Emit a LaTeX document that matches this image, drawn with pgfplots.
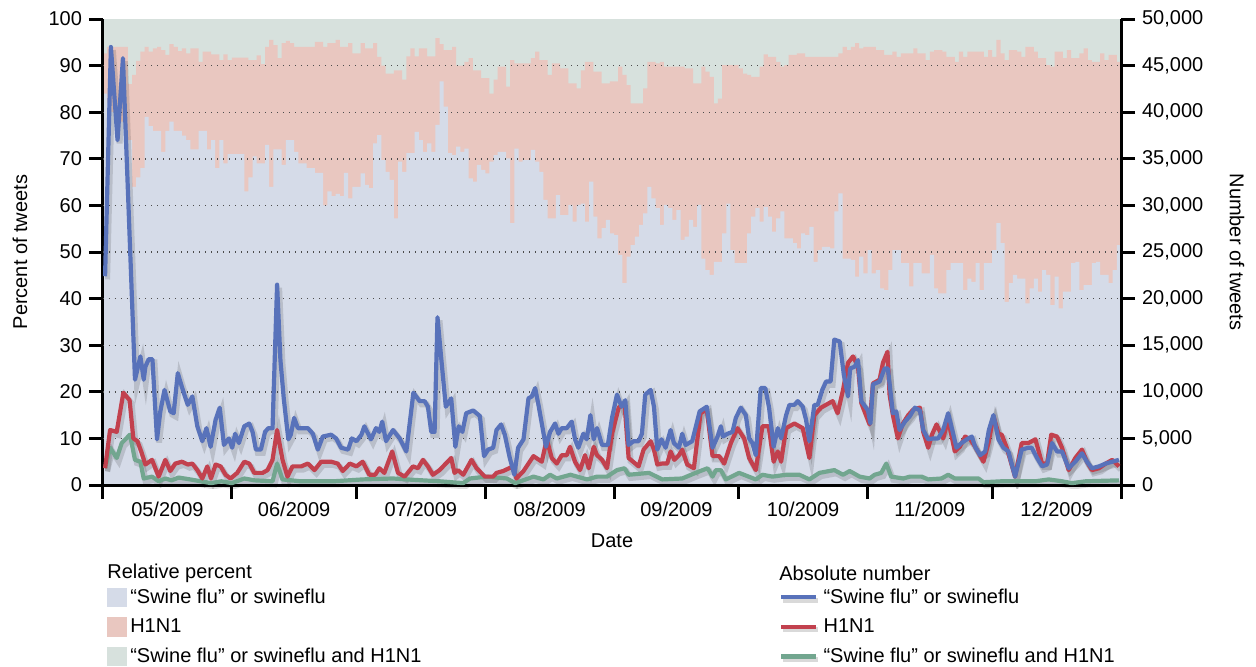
\documentclass[border=0pt]{standalone}
\usepackage{fontspec}
\setmainfont{Liberation Sans}
\usepackage{pgfplots}
\usepackage{pgfplotstable}
\pgfplotsset{compat=1.18}
\definecolor{SwBar}{HTML}{D5DBE8}
\definecolor{HnBar}{HTML}{E9C7C0}
\definecolor{BothBar}{HTML}{D7E1DD}
\definecolor{SwLine}{HTML}{5872BA}
\definecolor{HnLine}{HTML}{C2414E}
\definecolor{BothLine}{HTML}{72A68F}

% relative percent, step values (day from 1 May 2009, percent)
\pgfplotstableread{
d v
0 84
1 82
2 80
4 78
5 76
6 74
7 64
8 66
9 68
10 79
11 77
12 76
14 71.5
15 76
16 78
17 76
19 75
20 74
21 72
23 76
25 72
26 74
27 68
28 74
29 69
30 71
34 63
35 66
36 70.5
37 69
39 73
40 64
41 72
43 68.7
44 74
46 71.5
47 69
49 68
51 67
53 60
54 63
55 62
56 62.5
57 62
58 67
59 61.5
60 64
62 66.9
63 64.4
64 63.7
65 73.3
66 75.1
67 69.7
68 67.2
69 65.5
70 57.2
71 69.4
72 67.2
73 71.2
75 75.8
76 74
77 71.5
78 73.3
79 71.5
80 77.3
81 86.6
82 81.2
83 71.2
84 70.8
85 72.6
86 71.5
87 72.2
88 65.8
89 65.1
90 68.7
91 67.6
92 66.9
93 69.4
94 70.8
95 71.5
97 70.1
98 56.2
99 72.2
100 69.4
101 69.7
103 71.9
104 69.4
105 67.2
106 61.2
107 57.2
109 62.2
110 57.9
112 60.1
113 56.5
114 60.1
115 60.4
116 56.5
117 65.1
118 57.6
119 52.9
120 55.1
121 56.9
122 54
123 53.6
124 49.4
125 43.3
126 49
127 51.5
128 53.3
129 55.8
130 58.3
131 64
132 61.5
133 59.4
134 55.8
135 60.1
136 59.4
137 56.9
138 59
139 52.6
140 53.3
141 56.9
142 55.4
143 60.1
144 48.6
145 46.1
146 45.1
147 47.9
149 54
150 60.4
151 50.4
152 47.6
155 54
156 57.6
157 59.4
158 56.5
159 59.7
160 57.6
161 54.4
162 57.2
163 58.7
164 52.9
166 51.9
167 50.8
168 54
169 53.6
170 55.4
171 47.9
172 50.4
173 51.1
175 50.8
176 58.7
177 62.6
178 48.6
180 48.3
181 44.7
182 49
183 45.4
184 50.4
185 45.4
186 46.1
187 42.2
188 41.8
189 46.1
190 50.4
192 47.6
194 42.6
195 47.6
197 45.4
199 49.4
200 42.2
201 41.1
203 46.1
204 47.6
207 41.8
208 44.3
209 43.6
210 47.6
211 41.8
212 47.6
214 50.4
215 56.2
216 51.9
217 39.3
218 43.3
219 45.1
220 44.3
222 39
223 42.2
224 44.3
225 41.5
226 46.1
227 45.1
228 38.6
229 44.7
230 37.9
231 41.5
233 47.6
234 47.9
235 41.8
236 42.9
238 47.6
239 47.9
240 45.1
242 43.3
243 46.1
244 51.5
245 51.5
}\swbar

% swine flu + H1N1 share (top of the H1N1 band)
\pgfplotstableread{
d v
0 92.6
1 94
6 86
7 88
8 91
9 93
10 94
11 93
12 93.7
13 94
14 93.3
15 92.3
16 94.6
17 94
18 93.1
19 93.7
20 92.6
21 93.7
23 90.8
24 93
26 92.4
28 91.2
29 92.4
30 91.2
31 91.7
35 91.2
37 92.2
38 90.3
39 94
40 95.5
41 94.4
42 91.6
43 94.8
44 95.3
45 94.8
46 94
51 95.1
53 94
54 94.8
56 95.5
57 94
59 94.8
60 92.6
62 94.8
63 93.7
65 94.8
66 91.9
67 90
68 88.3
70 89
72 87
73 92
74 93.7
75 92
76 93.7
78 92
80 95.9
81 94.6
82 93.3
84 94
85 90
87 90.8
88 91.6
89 89
91 87.3
93 84
94 87
95 89.8
97 85.5
98 91.2
99 90.5
103 91.6
104 93
105 91.2
107 88
108 90.5
110 89.4
112 86.2
114 85.1
115 89
116 90.8
118 88.7
120 86.2
122 86.6
124 89.8
125 88
126 85.8
127 81.9
130 85.1
131 90.8
133 90.5
134 90.8
135 89.8
140 89.4
142 86.2
144 89.8
145 88.7
146 87.6
147 81.9
148 82.9
149 90.1
153 89.4
154 88.3
155 88
156 87.6
158 89.8
159 92.4
160 91.9
162 90.8
163 89.8
164 90.1
165 92.3
167 92.6
169 91.9
177 92.6
178 94
179 93.3
180 94
181 94.8
182 93.7
183 94
186 93.3
188 92.3
190 93
191 91.9
192 92.6
195 93.7
196 92.6
198 91.2
199 93
200 93.3
202 93
203 91.9
205 90.8
206 93
207 91.9
208 93
212 91.9
213 93.3
214 91.9
215 95.5
216 92.6
217 91.2
218 93.3
220 93
221 91.9
222 94
224 93
225 91.6
227 90.1
228 89.8
229 93
231 91.6
232 93.3
233 91.6
235 92.6
236 93.7
237 91.2
238 90.8
240 92.6
241 91.2
242 92.3
244 90.8
245 90.8
}\hntop

% absolute numbers, thousands of tweets
\pgfplotstableread{
d v
0 22.4
1.4 47
3 37
4.3 45.8
7.2 11.3
8.5 13.8
9.3 11.3
9.7 12.7
10.5 13.5
11.4 13.5
12.5 4.9
13.3 7.9
14.3 10.2
15.7 7.9
16.5 7.7
17.5 12
18.5 10.5
19.9 8.6
21 9.5
22.2 6.3
23.4 4.7
24.4 6.1
25.4 4.1
26.6 7
27.6 8.3
28.6 4.3
29.8 5
30.6 4
31.3 5.5
32.2 4.5
33.5 6.3
34.7 6.6
35.5 5.7
36.3 3.8
37.5 3.8
38.5 5.7
39.3 6.1
40.3 6.1
41.4 21.5
42.2 13.4
43 9.3
44.1 4.9
44.7 5.4
45.5 7.2
46.4 6.1
48.8 6.1
50 5.5
51.2 3.8
52.4 5.2
54.4 5.4
55.6 5
56.8 4
58.5 3.8
59.4 5
60.5 4.7
61.7 5.4
62.4 6.3
64 4.9
65.2 6.1
66 5.7
66.7 6.8
67.6 4.7
69.3 5.9
70.9 5
72.5 3.6
74.2 9.9
75.7 9
76.9 9
77.7 8.4
78.5 5.7
79.3 5.7
80 18
80.9 13.6
82 8.4
83.3 9.3
84.3 4.1
85.1 6.3
86 5.7
86.9 7.7
88.6 8
90.2 7.4
91.2 3.1
92.2 3.8
93.4 4
94.2 5.9
95.3 6.5
96.2 5.4
97.4 2.9
98.5 1.1
99.4 4
100.7 4.9
101.9 9.3
102.7 9.5
103.5 10.4
104.3 8.6
106.1 4.1
107.1 5.7
108.3 6.6
109.1 5.5
109.9 6.1
111.1 6.1
112.3 6.8
113.1 4.9
113.9 4
115.1 5.5
115.9 4.9
116.8 7.5
117.6 4.9
118.4 6.1
119.6 4.3
121 4.3
122 7.2
123.2 9.7
124.3 8.4
125.2 9.1
126 4.3
127.2 4.7
128.4 4.7
129.2 5.5
130 9.7
131.3 10.2
132.1 8.4
132.9 3.8
133.9 4.9
134.9 4
136.1 5.9
136.9 4.5
138.1 4
138.9 5.5
139.7 4.3
141.3 4.7
143.1 7.9
144.8 8.4
146.2 4
147.4 5.2
148.2 6.3
148.7 5.2
149.8 5.5
151 5.7
151.8 7.2
153 8.3
154.2 7.5
155 5
155.8 4.5
156.6 3.2
157.8 10.4
158.9 10.4
159.8 8.3
160.9 4.1
161.9 6.1
162.7 5
163.9 7.5
164.7 8.6
165.9 8.6
166.7 9
167.9 8.4
168.7 7
169.5 4.7
170.7 8.6
171.5 8.6
172.6 10.2
173.5 11.1
174.6 11.1
175.5 15.6
176.8 15.4
177.8 11.8
178.8 9.5
179.3 12.5
180.4 12.7
181.2 13.4
182 9
183.6 8
184.2 6.6
184.8 10.8
186.4 11.1
187.6 12.5
188.4 12.5
189.6 7.7
190.4 7.9
191.2 5.9
192.5 6.8
193.7 7.4
194.9 8.3
196.1 8
196.9 5.9
198.1 4.9
199.3 5
200.5 5
201.7 5.9
202.9 7.7
204.1 5.5
204.9 4
206.1 4.5
207.4 4.9
208.6 5.2
209.4 4.1
210.6 3.2
211.8 3.6
212.7 5.9
213.8 7.5
215 4.9
216.2 4
217.4 3.6
219 0.9
220.6 3.8
222.2 4
223 4
224.3 2.9
225.5 2
226.7 2.2
227.9 4.5
229.1 3.6
230.3 3.6
231.9 1.8
233.5 2.5
235.1 3.4
236.3 2.5
237.5 1.8
239.2 2
240.8 2.3
242.4 2.5
244 2.7
}\swline

\pgfplotstableread{
d v
0 1.8
1.2 5.9
2.8 5.7
4.4 9.9
5.9 9.1
6.8 5
7.8 4.7
8.7 3.6
9.7 2.2
11.3 2.7
12.9 0.9
14.5 2.7
15.7 1.5
16.9 2.3
18.5 2.5
19.9 2.2
21 2.3
22.2 1.6
23.4 0.7
24.6 2
25.5 0.7
26.6 2.2
27.8 2
29 1.1
30.2 0.7
31.8 1.3
33.5 2.5
34.7 2.3
35.9 1.3
37.9 1.3
39.1 1.6
40.3 2.7
41.4 5.9
42.7 2.7
43.9 0.9
45.1 2
47.2 2
48.8 2.3
50.4 1.6
52 2.5
54.4 2.5
56 2.3
57.2 1.5
58.9 2.3
60.5 2
62 2.5
63.6 1.1
65 1.1
66 1.8
67.2 1.3
69.1 3.6
70.5 1.3
72.1 0.9
74.1 2
75.3 1.8
76.5 2.7
77.7 2
78.9 1.1
80.5 1.6
83.3 2.9
84.1 1.3
84.9 1.6
86.2 1.1
88.2 2.7
89.4 1.8
91.4 0.9
93.4 0.9
94.2 1.3
95.8 1.5
98.2 2
99 0.7
100.7 1.5
103.1 3.1
105.1 2.5
106.3 4.9
107.5 2.9
108.7 2.3
109.9 3.2
111.1 3.2
111.9 4.1
113.1 2.5
114.3 1.6
115.5 3.2
116.4 1.8
117.6 4.1
118.4 3.2
119.6 2.7
120.8 1.8
122 5.5
123.6 8.3
125 8.8
126 2.9
128.4 2
129.6 3.8
131.3 4.7
132.1 3.8
132.9 2.2
134 2.3
135.3 2.3
136.1 3.6
137 2.7
138.1 3.2
138.9 3.8
140.1 2.2
141.7 1.8
143.3 7.7
144.8 8.1
146.2 3.1
147.8 3.1
149 2.3
150.6 4.5
152.2 6.1
153.8 5
155 2.9
156.6 1.6
158.2 6.3
159.7 6.3
160.9 2.5
161.9 3.6
162.7 2.5
163.9 6.1
165.9 6.6
167.9 6.1
169.5 2.9
170.7 7.5
172.3 8.3
175.1 9
176.3 7.7
177.6 10.2
178.8 13.1
180 13.8
181.2 12.7
182 8.8
184 6.5
184.8 10.9
186.4 11.3
187.2 13.1
188.3 14.3
188.8 9.7
189.6 7.5
190.8 5
192 6.6
193.3 7.5
194.5 8.1
196.1 8.3
196.9 5.7
198.1 4
199 5.4
200.1 6.5
201.7 5
202.9 7
204.5 3.6
205.7 4.1
207 5.2
208.2 4.9
209.4 4.1
211.4 2.5
212.6 4.5
213.8 7.4
215 5.5
215.8 5.4
217 4
219 0.9
220.6 4.5
222.2 4.5
223.9 4.9
225.5 2.3
226.7 2.3
227.7 5.4
229.1 5.2
230.3 4
231.9 1.6
233.5 2.9
235.1 3.8
236.3 2.5
237.5 1.6
239.2 1.8
240.8 2.3
242.4 2.7
244 2
}\hnline

\pgfplotstableread{
d v
0 1.8
1.2 4
2.8 2.9
4 4.5
6 5.4
7.2 2.7
8.5 2.5
9.3 0.7
11.3 0.9
12.9 0.4
14.5 0.7
16 0.5
17.7 0.8
20.5 0.6
23 0.4
25.5 0.2
28 0.4
30.5 0.2
33.5 0.7
36 0.5
40.3 0.4
41.4 2.3
42.7 0.6
47 0.4
55 0.4
62 0.6
69.3 0.7
72.5 0.6
80.5 0.4
86.2 0.2
87.8 0.7
91.8 0.9
96.7 0.7
98.7 0.2
103.1 0.9
105.5 0.6
107.1 1.1
108.7 0.7
112 1.1
116 0.6
118.4 0.9
120.8 0.9
123.2 1.6
125 1.8
126 1.1
130.9 1.3
134.1 0.6
138.9 0.7
142.1 1.3
145 1.8
146.2 0.9
147 1.6
148.2 1.6
149.4 0.6
152.6 1.3
156.6 0.6
158.2 1.1
160.6 0.9
163.9 1.1
167.1 1.1
169.5 0.6
171.9 1.3
175.5 1.6
177.6 1.1
179.2 1.5
181.6 0.9
184 0.7
185.2 1.1
186.8 1.3
188 2.3
189.2 0.9
192.1 0.7
193.7 0.9
196.5 0.9
198.1 0.6
201.3 0.7
202.9 1.1
204.5 0.7
210.2 0.7
211.4 0.3
215.8 0.4
218.2 0.4
223.9 0.4
227.1 0.6
230.3 0.4
232.7 0.2
236 0.4
244 0.5
}\bothline

\pgfplotsset{
  common/.style={
    scale only axis, width=509pt, height=233pt,
    xmin=0, xmax=245,
    axis line style={line width=1.5pt},
    tick style={line width=1.5pt, black},
    tick align=outside, major tick length=7pt,
    /pgf/number format/assume math mode=true,
    clip mode=individual,
  },
  shadow/.style={black, opacity=0.13, line width=3pt, xshift=1pt, yshift=-1.6pt, forget plot},
  tline/.style={line width=2.1pt, line join=round},
}

\begin{document}
\begin{tikzpicture}
\useasboundingbox (-51.5pt,-90.5pt) rectangle (576.5pt,242.5pt);
\begin{axis}[common,
  ymin=0, ymax=100,
  axis x line*=bottom, axis y line*=left,
  axis on top,
  xtick={0,31,61,92,123,153,184,214,245}, xticklabels={},
  extra x ticks={15.5,46,76.5,107.5,138,168.5,199,229.5},
  extra x tick labels={05/2009,06/2009,07/2009,08/2009,09/2009,10/2009,11/2009,12/2009},
  extra x tick style={major tick length=0pt, tick label style={yshift=-5pt}},
  ytick={0,10,...,100},
  extra y ticks={10,20,...,90}, extra y tick labels={},
  extra y tick style={grid=major, major tick length=0pt},
  grid style={black!70, line width=0.7pt, dash pattern=on 0.7pt off 2.3pt},
  every axis x label/.style={at={(axis description cs:0.5,0)}, yshift=-28pt, anchor=center},
  every axis y label/.style={at={(axis description cs:0,0.5)}, xshift=-41.5pt, rotate=90, anchor=center},
  xlabel={Date}, ylabel={Percent of tweets},
  legend cell align=left,
  legend style={at={(0.004,-0.215)}, anchor=north west, draw=none, fill=none,
    inner sep=0pt, row sep=3.2pt, nodes={inner sep=1.5pt}},
]
\addplot[fill=BothBar, draw=none, forget plot] coordinates {(0,100) (245,100)} \closedcycle;
\addplot[fill=HnBar, draw=none, const plot mark left, forget plot] table[x=d, y=v] {\hntop} \closedcycle;
\addplot[fill=SwBar, draw=none, const plot mark left, forget plot] table[x=d, y=v] {\swbar} \closedcycle;
\addlegendimage{legend image code/.code={\fill[SwBar] (0pt,-4.7pt) rectangle (9.5pt,4.7pt);}}
\addlegendentry{“Swine flu” or swineflu}
\addlegendimage{legend image code/.code={\fill[HnBar] (0pt,-4.7pt) rectangle (9.5pt,4.7pt);}}
\addlegendentry{H1N1}
\addlegendimage{legend image code/.code={\fill[BothBar] (0pt,-4.7pt) rectangle (9.5pt,4.7pt);}}
\addlegendentry{“Swine flu” or swineflu and H1N1}
\node[anchor=west, inner sep=0pt] at ([xshift=2pt,yshift=-44pt]axis description cs:0,0) {Relative percent};
\node[anchor=west, inner sep=0pt] at ([yshift=-44pt]axis description cs:0.664,0) {Absolute number};
\end{axis}

\begin{axis}[common,
  ymin=0, ymax=50000,
  axis y line*=right, axis x line=none,
  ytick={0,5000,...,50000}, scaled y ticks=false,
  yticklabel style={/pgf/number format/.cd, fixed, 1000 sep={,}},
  every axis y label/.style={at={(axis description cs:1,0.5)}, xshift=58pt, rotate=-90, anchor=center},
  ylabel={Number of tweets},
  legend cell align=left,
  legend style={at={(0.664,-0.215)}, anchor=north west, draw=none, fill=none,
    inner sep=0pt, row sep=3.2pt, nodes={inner sep=1.5pt}},
]
\addplot[shadow] table[x expr=\thisrow{d}+0.5, y expr=\thisrow{v}*1000] {\bothline};
\addplot[shadow] table[x expr=\thisrow{d}+0.5, y expr=\thisrow{v}*1000] {\hnline};
\addplot[shadow] table[x expr=\thisrow{d}+0.5, y expr=\thisrow{v}*1000] {\swline};
\addplot[BothLine, tline, forget plot] table[x expr=\thisrow{d}+0.5, y expr=\thisrow{v}*1000] {\bothline};
\addplot[HnLine, tline, forget plot] table[x expr=\thisrow{d}+0.5, y expr=\thisrow{v}*1000] {\hnline};
\addplot[SwLine, tline, forget plot] table[x expr=\thisrow{d}+0.5, y expr=\thisrow{v}*1000] {\swline};
\addlegendimage{legend image code/.code={\draw[black, opacity=0.15, line width=2.5pt] (0.8pt,-1.5pt) -- (18.3pt,-1.5pt); \draw[SwLine, line width=2.1pt] (0pt,0pt) -- (17.5pt,0pt);}}
\addlegendentry{“Swine flu” or swineflu}
\addlegendimage{legend image code/.code={\draw[black, opacity=0.15, line width=2.5pt] (0.8pt,-1.5pt) -- (18.3pt,-1.5pt); \draw[HnLine, line width=2.1pt] (0pt,0pt) -- (17.5pt,0pt);}}
\addlegendentry{H1N1}
\addlegendimage{legend image code/.code={\draw[black, opacity=0.15, line width=2.5pt] (0.8pt,-1.5pt) -- (18.3pt,-1.5pt); \draw[BothLine, line width=2.1pt] (0pt,0pt) -- (17.5pt,0pt);}}
\addlegendentry{“Swine flu” or swineflu and H1N1}
\end{axis}
\end{tikzpicture}
\end{document}
